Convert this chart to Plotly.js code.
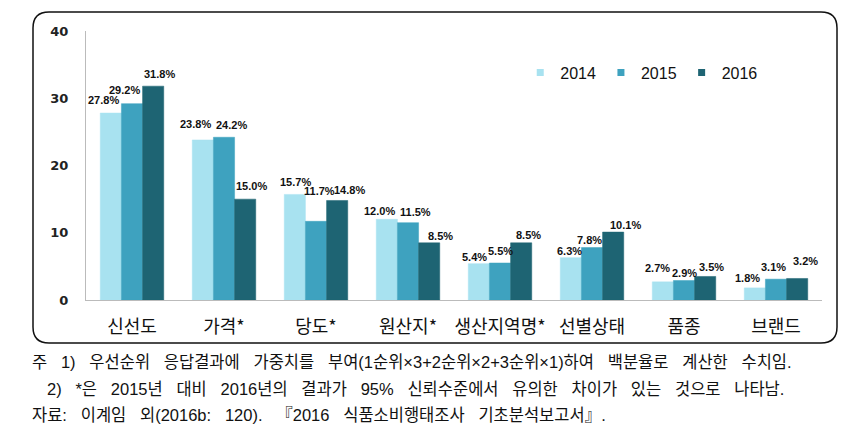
<!DOCTYPE html>
<html>
<head>
<meta charset="utf-8">
<script src="https://cdn.plot.ly/plotly-3.0.1.min.js"></script>
<style>html,body{margin:0;padding:0;background:#fff;}#chart{width:855px;height:444px;}</style>
</head>
<body>
<div id="chart"></div>
<script>
const categories = ["신선도", "가격*", "당도*", "원산지*", "생산지역명*", "선별상태", "품종", "브랜드"];
const v2014 = [27.8, 23.8, 15.7, 12.0, 5.4, 6.3, 2.7, 1.8];
const v2015 = [29.2, 24.2, 11.7, 11.5, 5.5, 7.8, 2.9, 3.1];
const v2016 = [31.8, 15.0, 14.8, 8.5, 8.5, 10.1, 3.5, 3.2];
const seriesNames = ["2014", "2015", "2016"];
const yTicks = [0, 10, 20, 30, 40];
const notes = [
  "주 1) 우선순위 응답결과에 가중치를 부여(1순위×3+2순위×2+3순위×1)하여 백분율로 계산한 수치임.",
  "2) *은 2015년 대비 2016년의 결과가 95% 신뢰수준에서 유의한 차이가 있는 것으로 나타남.",
  "자료: 이계임 외(2016b: 120). 『2016 식품소비행태조사 기초분석보고서』."
];

// label placement nudges (pixels) per series, per category, as laid out in the reference
const labelDx = [
  [-7, -7, 1, -7, -4, -1, -5, -7],
  [-8, 7, 3, 7, 0, -3, 0, -3],
  [6, 6, 12, 11, 7, 12, 6, 8]
];
const labelDy = [
  [13, 16, 12, 8, 7, 7, 14, 10],
  [14, 12, 30, 11, 12, 8, 8, 12],
  [12, 13, 10, 7, 8, 7, 9, 17]
];

const colors = ["#a8e2f0", "#3ea2bf", "#1e6473"];
const vals = [v2014, v2015, v2016];
const traces = vals.map((v, i) => ({
  type: "bar",
  name: seriesNames[i],
  x: categories,
  y: v,
  showlegend: false,
  marker: {color: colors[i], line: {width: 0.5, color: colors[i]}},
  hoverinfo: "skip"
}));
seriesNames.forEach((n, i) => traces.push({
  type: "scatter", mode: "markers", name: n,
  x: [categories[0]], y: [null],
  marker: {symbol: "square", size: 7, color: colors[i]},
  hoverinfo: "skip"
}));

const W = 736, H = 269;
const bargap = 0.31;
const barW = W / categories.length * (1 - bargap) / 3;
const rx = 16 / W, ry = 16 / H;
const x0 = -53 / W, x1 = 751 / W, y0 = -43 / H, y1 = 288 / H;
const boxPath = `M ${x0 + rx} ${y1} L ${x1 - rx} ${y1} Q ${x1} ${y1} ${x1} ${y1 - ry} L ${x1} ${y0 + ry} Q ${x1} ${y0} ${x1 - rx} ${y0} L ${x0 + rx} ${y0} Q ${x0} ${y0} ${x0} ${y0 + ry} L ${x0} ${y1 - ry} Q ${x0} ${y1} ${x0 + rx} ${y1} Z`;

const noteFont = {family: "Liberation Sans, Noto Sans CJK KR, sans-serif", size: 16.5, color: "#111"};
const noteX = [-56 / W, -41 / W, -56 / W];
const noteY = [-62 / H, -89 / H, -115 / H];

const annotations = [];
vals.forEach((v, i) => v.forEach((d, j) => annotations.push({
  text: d.toFixed(1) + "%", xref: "x", yref: "y", x: categories[j], y: d,
  xshift: (i - 1) * barW + labelDx[i][j], yshift: labelDy[i][j],
  xanchor: "center", yanchor: "middle", showarrow: false,
  font: {family: "Liberation Sans, Arial, sans-serif", size: 11, color: "#111", weight: "bold"}
})));
notes.forEach((t, i) => annotations.push({
  text: t.split(" ").join("\u2002\u2004"), xref: "paper", yref: "paper", x: noteX[i], y: noteY[i],
  xanchor: "left", yanchor: "middle", showarrow: false, font: noteFont
}));

const layout = {
  width: 855, height: 444,
  margin: {l: 86, r: 33, t: 31, b: 144},
  paper_bgcolor: "#fff", plot_bgcolor: "#fff",
  barmode: "group",
  bargap: bargap, bargroupgap: 0,
  showlegend: true,
  legend: {
    orientation: "h", x: 0.59, y: 0.845, xanchor: "left", yanchor: "middle",
    font: {family: "Liberation Sans, Arial, sans-serif", size: 16, color: "#111"},
    bgcolor: "rgba(0,0,0,0)", itemwidth: 30, traceorder: "normal"
  },
  xaxis: {
    type: "category", showgrid: false, zeroline: false,
    showline: true, linecolor: "#bbb", linewidth: 1,
    ticks: "", ticklabelstandoff: 10,
    tickfont: {family: "Noto Sans CJK KR, sans-serif", size: 18, color: "#111"}
  },
  yaxis: {
    range: [0, 40], tickvals: yTicks, ticktext: yTicks.map(String),
    showgrid: false, zeroline: false, showline: true, linecolor: "#bbb", linewidth: 1,
    ticks: "", ticklabelstandoff: 14,
    tickfont: {family: "DejaVu Sans, sans-serif", size: 13, color: "#222", weight: "bold"}
  },
  shapes: [{type: "path", xref: "paper", yref: "paper", path: boxPath, line: {color: "#111", width: 1.5}, fillcolor: "rgba(0,0,0,0)", layer: "below"}],
  annotations: annotations
};

Plotly.newPlot("chart", traces, layout, {displayModeBar: false, staticPlot: true});
</script>
</body>
</html>
